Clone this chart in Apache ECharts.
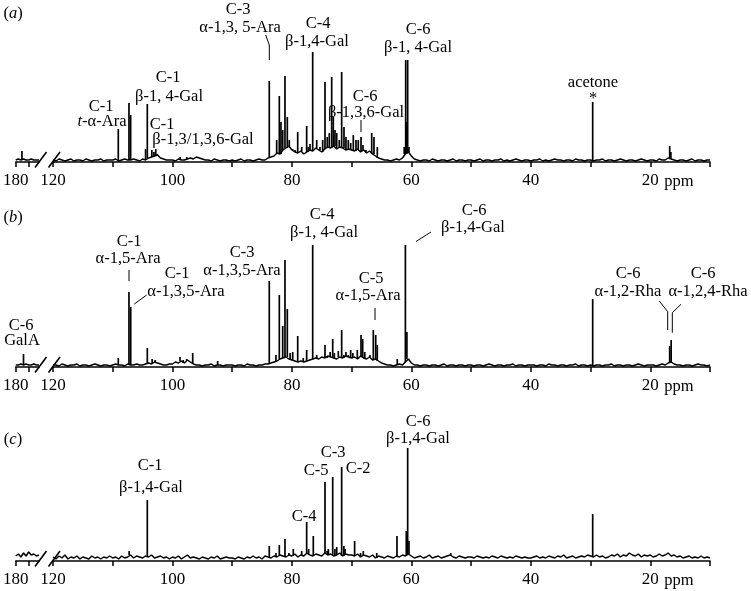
<!DOCTYPE html>
<html><head><meta charset="utf-8">
<script src="https://cdn.jsdelivr.net/npm/echarts@6/dist/echarts.min.js"></script>
<style>html,body{margin:0;padding:0;background:#fff}#c{width:751px;height:591px}</style>
</head><body><div id="c"></div>
<script>
// ---------------- data ----------------
const majorLabels = [120, 100, 80, 60, 40, 20];
const leftTicks = [180, 177.5];
const leftLabels = [180];

// baseline noise / envelope, 0.5 ppm steps from 120 down to 10 ppm
const noiseA = [
  2,1,3,2,1,2,3,1,2,2,1,3,2,1,2,2,3,1,2,2,
  2,3,1,2,3,2,2,3,2,1,3,2,4,5,6,7,4,3,2,2,
  2,1,3,2,2,3,4,3,5,4,3,2,2,1,3,2,1,2,2,1,
  2,1,2,3,1,2,2,1,2,3,2,2,4,5,6,9,8,12,14,16,
  12,10,9,11,8,10,12,11,14,12,10,13,15,14,16,13,15,14,12,13,
  12,11,13,10,12,9,11,8,6,4,3,2,2,1,2,3,2,4,8,10,
  6,3,2,1,2,2,1,3,2,1,2,2,1,2,3,1,2,2,1,2,
  2,1,2,3,1,2,2,1,2,2,3,1,2,1,2,3,2,1,2,2,
  1,2,2,3,1,2,1,2,3,2,2,1,2,2,1,3,2,2,1,2,
  2,1,2,2,3,1,2,2,1,2,3,2,1,2,2,1,2,3,2,1,
  2,2,1,3,2,2,4,3,2,1,2,2,1,2,3,1,2,2,1,2,
  2];
const noiseB = [
  2,2,1,3,2,1,2,2,3,1,2,2,1,2,3,2,1,2,2,1,
  2,3,2,2,1,3,2,2,3,2,2,3,4,3,5,4,3,2,2,3,
  3,5,4,6,4,7,5,3,2,2,1,2,2,3,1,2,2,1,2,2,
  2,1,2,2,1,3,2,2,1,2,2,3,3,4,5,6,8,9,10,8,
  7,6,5,6,5,6,7,8,9,8,10,9,11,10,9,8,10,9,11,10,
  9,10,8,11,9,8,10,7,8,6,4,3,2,2,1,2,3,2,5,8,
  4,2,2,1,2,2,1,2,2,1,2,3,1,2,2,1,2,2,1,2,
  2,1,2,2,1,2,3,2,1,2,2,1,2,2,3,1,2,2,1,2,
  2,2,1,2,2,1,3,2,2,1,2,2,1,2,2,3,1,2,2,1,
  2,1,2,2,1,2,2,3,1,2,2,1,2,2,1,2,3,2,1,2,
  2,2,1,2,3,2,4,5,3,2,2,1,2,2,1,2,3,2,2,1,
  2];
const noiseC = [
  4,2,5,3,6,2,4,3,5,2,4,3,2,5,3,4,2,4,3,5,
  3,4,2,5,3,4,6,3,5,4,3,5,4,6,3,4,5,3,4,2,
  4,3,5,2,4,6,3,4,3,2,4,3,2,4,3,5,2,3,4,3,
  3,2,4,3,2,4,3,5,3,4,2,5,4,3,5,4,6,5,4,6,
  5,7,4,6,5,8,6,5,7,6,5,8,6,7,5,6,8,5,7,6,
  6,5,7,4,6,5,4,6,3,5,4,3,5,4,3,5,4,6,5,7,
  5,3,4,5,3,4,6,3,4,5,3,4,5,6,4,3,5,4,3,4,
  4,3,5,4,3,4,3,5,4,3,5,4,3,4,3,5,4,3,4,3,
  3,4,5,3,4,3,5,4,3,5,4,6,3,4,5,3,4,5,4,6,
  5,4,6,4,5,3,4,6,5,7,4,6,5,8,6,5,7,4,6,5,
  6,4,5,7,5,6,8,5,6,4,5,3,4,5,3,4,3,5,3,4,
  3];
// baseline noise in the 180-175.5 ppm section, 0.5 ppm steps
const leftNoiseA = [2,3,2,3,2,2,3,2,2,2];
const leftNoiseB = [2,2,3,2,3,2,2,3,2,2];
const leftNoiseC = [5,7,4,8,5,9,6,7,5,6];

// peaks: [ppm, intensity]
const peaksA = [[178.8,11],
  [109.07,33],[107.28,59],[107.0,47],[104.5,13],[104.21,58],[103.45,12],[103.1,10],[102.8,13],[102.55,8],
  [98.7,5],[97.6,5],[83.79,81],[82.55,22],[82.11,66],[81.83,40],[81.54,32],[81.16,86],[80.77,45],[80.44,22],
  [79.87,13],[79.48,12],[79.03,30],[78.36,15],[77.53,36],[77.26,15],[76.97,18],[76.52,110],[75.85,22],
  [75.3,15],[74.85,22],[74.46,80],[74.08,25],[73.74,29],[73.34,85],[73.07,45],[72.79,32],[72.5,29],
  [72.07,22],[71.67,90],[71.28,35],[70.95,25],[70.56,22],[70.16,19],[69.72,27],[69.27,22],[68.89,22],
  [68.43,25],[68.1,17],[67.6,12],[66.93,10],[66.64,29],[66.26,25],[65.7,15],
  [61.2,15],[60.95,102],[60.8,40],[60.62,102],[60.4,15],[29.64,60],[16.75,16],[16.55,10]];
const peaksB = [[178.5,13],
  [109.07,9],[107.28,75],[106.99,60],[104.21,19],[103.4,8],[102.9,7],[98.74,10],[98.2,7],[97.62,8],
  [96.61,14],[92.43,6],[83.79,86],[82.67,12],[82.11,72],[81.54,41],[81.16,107],[80.77,58],[80.3,14],
  [79.87,15],[79.03,31],[78.1,9],[77.53,17],[76.52,122],[75.85,12],[75.01,9],[74.46,22],[74.08,9],
  [73.6,15],[73.17,28],[72.9,14],[72.23,16],[71.67,37],[71.3,12],[70.95,15],[70.56,12],[70.16,17],
  [69.8,14],[69.05,17],[68.43,32],[68.15,28],[67.8,15],[66.93,12],[66.37,37],[65.97,32],
  [65.71,22],[62.36,8],[61.0,122],[60.75,35],[29.64,68],[16.75,21],[16.5,27]];
const peaksC = [
  [107.25,10],[104.21,61],[83.79,15],[82.67,8],[82.11,16],[81.16,22],[80.5,8],[79.77,12],[78.36,10],
  [77.53,39],[77.2,12],[76.42,25],[74.46,79],[74.1,10],[73.9,12],[73.17,84],[72.8,12],[72.5,14],
  [71.67,94],[71.3,15],[71.1,12],[69.5,20],[68.5,8],[68.05,10],[65.8,8],[62.41,25],
  [60.85,30],[60.62,113],[60.4,20],[53.4,8],[29.64,47]];

// ---------------- layout ----------------
const baselines = [162, 367, 561];
const PANEL_H = 130;
const FONT = '"Liberation Serif", "Times New Roman", serif';
const INK = '#000';

function buildSpectrum(noiseMain, noiseLeft, peaks) {
  const main = noiseMain.map((v, i) => [120 - 0.5 * i, v]);
  const left = noiseLeft.map((v, i) => [180 - 0.5 * i, v]);
  const pick = (arr, start, p) => arr[Math.min(arr.length - 1, Math.max(0, Math.round((start - p) / 0.5)))];
  const mainPeaks = [], leftPeaks = [];
  peaks.forEach(([p, h]) => {
    if (p > 150) leftPeaks.push([p, h, pick(noiseLeft, 180, p)]);
    else mainPeaks.push([p, h, pick(noiseMain, 120, p)]);
  });
  return { main, left, mainPeaks, leftPeaks };
}

const spectra = [
  buildSpectrum(noiseA, leftNoiseA, peaksA),
  buildSpectrum(noiseB, leftNoiseB, peaksB),
  buildSpectrum(noiseC, leftNoiseC, peaksC)
];

function renderPeak(params, api) {
  const x = api.value(0), h = api.value(1), b = api.value(2);
  const p1 = api.coord([x, h]);
  const pb = api.coord([x, b]);
  return { type: 'line', silent: true,
    shape: { x1: p1[0], y1: pb[1], x2: p1[0], y2: p1[1] },
    style: { stroke: INK, lineWidth: 1.7, lineCap: 'butt' } };
}

const grids = [], xAxes = [], yAxes = [], series = [];
const axisLineStyle = { color: INK, width: 1.5 };
const labelStyle = { color: INK, fontFamily: FONT, fontSize: 17, margin: 10 };
baselines.forEach((B, p) => {
  grids.push({ left: 12, width: 27, top: B - PANEL_H, height: PANEL_H });
  grids.push({ left: 53, width: 657, top: B - PANEL_H, height: PANEL_H });
  xAxes.push({ type: 'value', gridIndex: 2 * p, min: 175.5, max: 180, inverse: true,
    axisLine: { lineStyle: axisLineStyle }, splitLine: { show: false },
    axisTick: { customValues: leftTicks, length: 5, lineStyle: axisLineStyle },
    axisLabel: Object.assign({ customValues: leftLabels }, labelStyle) });
  xAxes.push({ type: 'value', gridIndex: 2 * p + 1, min: 10, max: 120, interval: 10, inverse: true,
    axisLine: { lineStyle: axisLineStyle }, splitLine: { show: false },
    axisTick: { length: 5, lineStyle: axisLineStyle },
    axisLabel: Object.assign({ customValues: majorLabels }, labelStyle) });
  yAxes.push({ type: 'value', gridIndex: 2 * p, min: 0, max: PANEL_H, show: false });
  yAxes.push({ type: 'value', gridIndex: 2 * p + 1, min: 0, max: PANEL_H, show: false });
  const lineSt = { color: INK, width: 1.5 };
  [[2 * p, spectra[p].left, spectra[p].leftPeaks], [2 * p + 1, spectra[p].main, spectra[p].mainPeaks]]
    .forEach(([ai, base, pk]) => {
      series.push({ type: 'line', xAxisIndex: ai, yAxisIndex: ai, data: base,
        symbol: 'none', lineStyle: lineSt, silent: true, animation: false });
      series.push({ type: 'custom', xAxisIndex: ai, yAxisIndex: ai, data: pk,
        encode: { x: 0, y: 1 }, renderItem: renderPeak, silent: true, animation: false });
    });
});

// annotation texts: [text, x, y]
const annotations = [
  ['({i|a})', 13, 14], ['C-1', 101, 107], ['{i|t}-α-Ara', 102, 122],
  ['C-1', 168, 78], ['β-1, 4-Gal', 169, 97], ['C-1', 162, 125], ['β-1,3/1,3,6-Gal', 203, 140],
  ['C-3', 238, 10], ['α-1,3, 5-Ara', 240, 28], ['C-4', 318, 24], ['β-1,4-Gal', 317, 42],
  ['C-6', 365, 97], ['β-1,3,6-Gal', 366, 113], ['C-6', 418, 30], ['β-1, 4-Gal', 418, 48],
  ['acetone', 593, 83], ['*', 593, 99], ['ppm', 679, 182],
  ['({i|b})', 13, 218], ['C-6', 21, 326], ['GalA', 22, 341], ['C-1', 129, 242], ['α-1,5-Ara', 128, 259],
  ['C-1', 177, 274], ['α-1,3,5-Ara', 186, 292], ['C-3', 242, 253], ['α-1,3,5-Ara', 242, 271],
  ['C-4', 322, 215], ['β-1, 4-Gal', 324, 233], ['C-5', 371, 279], ['α-1,5-Ara', 368, 296],
  ['C-6', 474, 211], ['β-1,4-Gal', 473, 228], ['C-6', 628, 274], ['α-1,2-Rha', 628, 292],
  ['C-6', 703, 274], ['α-1,2,4-Rha', 708, 292], ['ppm', 679, 387],
  ['({i|c})', 13, 440], ['C-1', 150, 466], ['β-1,4-Gal', 151, 488], ['C-4', 304, 517],
  ['C-5', 316, 471], ['C-3', 333, 453], ['C-2', 358, 469], ['C-6', 418, 422], ['β-1,4-Gal', 418, 439],
  ['ppm', 679, 581]
];
const pointers = [
  [[265.7, 35], [269.3, 45], [269.3, 60]],
  [[361, 120], [361, 132]],
  [[129, 270], [129, 281]],
  [[146.7, 295], [134.3, 304]],
  [[375, 308], [375, 320]],
  [[431, 232], [416, 241.5]],
  [[659.3, 301], [667.7, 311.7], [667.7, 330]],
  [[681, 304.3], [672.3, 312.7], [672.3, 332.7]]
];

const graphic = [];
annotations.forEach(([t, x, y]) => {
  graphic.push({ type: 'text', x, y, silent: true, style: {
    text: t, fill: INK, fontFamily: FONT, fontSize: 16.5,
    align: 'center', verticalAlign: 'middle', textAlign: 'center', textVerticalAlign: 'middle',
    rich: { i: { fontFamily: FONT, fontSize: 16.5, fontStyle: 'italic', fill: INK } } } });
});
pointers.forEach(pts => graphic.push({ type: 'polyline', silent: true, shape: { points: pts },
  style: { stroke: INK, lineWidth: 1, fill: null } }));
// axis break marks
baselines.forEach(B => {
  graphic.push({ type: 'line', silent: true, shape: { x1: 35, y1: B + 5.5, x2: 46.5, y2: B - 10 }, style: { stroke: INK, lineWidth: 1.6 } });
  graphic.push({ type: 'line', silent: true, shape: { x1: 48.5, y1: B + 5.5, x2: 60, y2: B - 10 }, style: { stroke: INK, lineWidth: 1.6 } });
});

const chart = echarts.init(document.getElementById('c'), null, { renderer: 'canvas' });
chart.setOption({
  animation: false,
  backgroundColor: '#fff',
  grid: grids, xAxis: xAxes, yAxis: yAxes, series, graphic
});
</script></body></html>
